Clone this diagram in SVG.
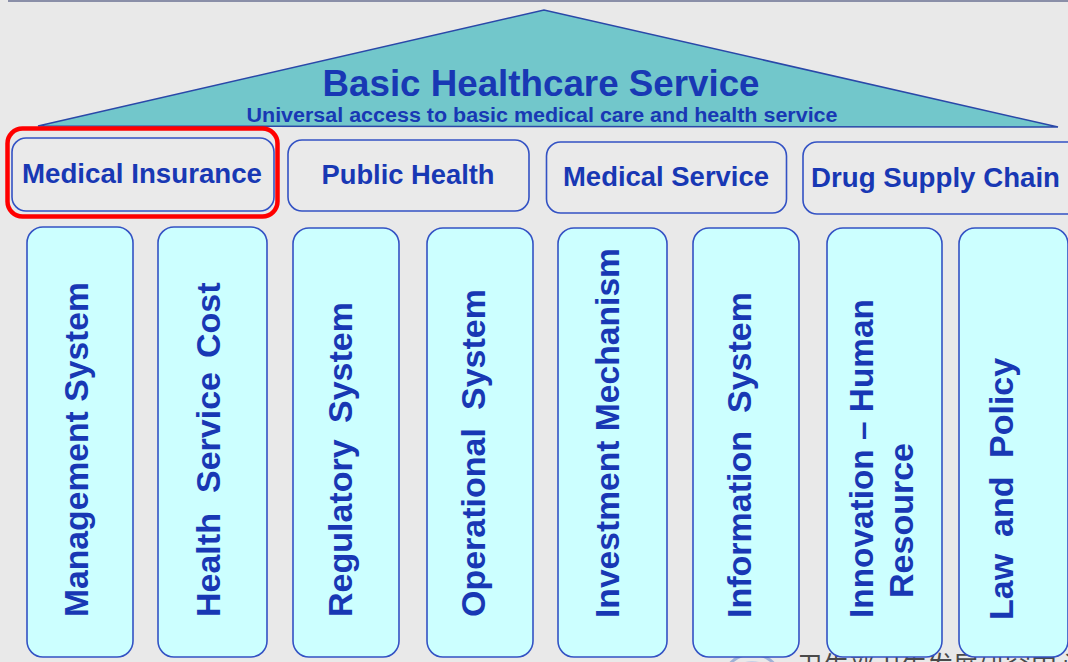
<svg xmlns="http://www.w3.org/2000/svg" width="1068" height="662" viewBox="0 0 1068 662">
<style>
  .bg { fill: #e9e9e9; }
  .roof { fill: #72c7cb; stroke: #2a48a8; stroke-width: 1.5; }
  .box { fill: #eaeaea; stroke: #3352c4; stroke-width: 1.6; }
  .pillar { fill: #ccffff; stroke: #3352c4; stroke-width: 1.6; }
  .hl { fill: none; stroke: #ff0000; stroke-width: 4.5; }
  text { font-family: "Liberation Sans", Arial, sans-serif; font-weight: bold; fill: #1838b4; }
  .title { font-size: 36px; }
  .sub { font-size: 20px; }
  .lbl { font-size: 27px; }
  .vt { font-size: 34px; }
  .wm { font-family: "Noto Sans CJK SC", sans-serif; font-weight: normal; font-size: 26px; fill: #4a4a4a; }
</style>
<rect class="bg" x="0" y="0" width="1068" height="662"/>
<line x1="8" y1="1" x2="1068" y2="1" stroke="#8a8fa8" stroke-width="2"/>

<g id="watermark">
  <circle cx="752" cy="684" r="30" fill="none" stroke="#9fb2d6" stroke-width="3"/>
  <circle cx="752" cy="684" r="22" fill="none" stroke="#c5d0e6" stroke-width="2"/>
  <text class="wm" x="797" y="675">卫生部卫生发展研究中心</text>
</g>

<g id="roof">
  <polygon class="roof" points="38,126 544,10 1058,127"/>
  <text class="title" x="541" y="96" text-anchor="middle" textLength="437" lengthAdjust="spacingAndGlyphs">Basic Healthcare Service</text>
  <text class="sub" x="542" y="122" text-anchor="middle" textLength="591" lengthAdjust="spacingAndGlyphs">Universal access to basic medical care and health service</text>
</g>

<g id="medical-insurance">
  <rect class="box" x="12" y="138" width="262" height="73" rx="14"/>
  <text class="lbl" x="142" y="183" text-anchor="middle" textLength="240" lengthAdjust="spacingAndGlyphs">Medical Insurance</text>
  <rect class="hl" x="7.5" y="128.5" width="270" height="88" rx="15"/>
</g>
<g id="public-health">
  <rect class="box" x="288" y="140" width="241" height="71" rx="14"/>
  <text class="lbl" x="408" y="184" text-anchor="middle" textLength="173" lengthAdjust="spacingAndGlyphs">Public Health</text>
</g>
<g id="medical-service">
  <rect class="box" x="546.5" y="142" width="240" height="71" rx="14"/>
  <text class="lbl" x="666" y="186" text-anchor="middle" textLength="206" lengthAdjust="spacingAndGlyphs">Medical Service</text>
</g>
<g id="drug-supply-chain">
  <rect class="box" x="803" y="142" width="280" height="72" rx="14"/>
  <text class="lbl" x="935.5" y="187" text-anchor="middle" textLength="249" lengthAdjust="spacingAndGlyphs">Drug Supply Chain</text>
</g>

<g id="management-system">
  <rect class="pillar" x="27" y="227" width="106" height="430" rx="16"/>
  <text class="vt" transform="translate(88,617) rotate(-90)" x="0" y="0" textLength="335" lengthAdjust="spacingAndGlyphs">Management System</text>
</g>
<g id="health-service-cost">
  <rect class="pillar" x="158" y="227" width="109" height="430" rx="16"/>
  <text class="vt" transform="translate(220,617) rotate(-90)"><tspan x="0" y="0">Health</tspan><tspan x="124" y="0">Service</tspan><tspan x="259" y="0">Cost</tspan></text>
</g>
<g id="regulatory-system">
  <rect class="pillar" x="293" y="228" width="106" height="429" rx="16"/>
  <text class="vt" transform="translate(352,617) rotate(-90)"><tspan x="0" y="0">Regulatory</tspan><tspan x="194" y="0">System</tspan></text>
</g>
<g id="operational-system">
  <rect class="pillar" x="427" y="228" width="106" height="429" rx="16"/>
  <text class="vt" transform="translate(485,617) rotate(-90)"><tspan x="0" y="0">Operational</tspan><tspan x="207" y="0">System</tspan></text>
</g>
<g id="investment-mechanism">
  <rect class="pillar" x="558" y="228" width="109" height="429" rx="16"/>
  <text class="vt" transform="translate(619,618) rotate(-90)" x="0" y="0" textLength="370" lengthAdjust="spacingAndGlyphs">Investment Mechanism</text>
</g>
<g id="information-system">
  <rect class="pillar" x="693" y="228" width="106" height="429" rx="16"/>
  <text class="vt" transform="translate(751,618) rotate(-90)"><tspan x="0" y="0">Information</tspan><tspan x="205" y="0">System</tspan></text>
</g>
<g id="innovation-human-resource">
  <rect class="pillar" x="827" y="228" width="115" height="429" rx="16"/>
  <text class="vt" transform="translate(873,618) rotate(-90)" x="0" y="0" textLength="319" lengthAdjust="spacingAndGlyphs">Innovation – Human</text>
  <text class="vt" transform="translate(913,598) rotate(-90)" x="0" y="0" textLength="155" lengthAdjust="spacingAndGlyphs">Resource</text>
</g>
<g id="law-and-policy">
  <rect class="pillar" x="959" y="228" width="109" height="429" rx="16"/>
  <text class="vt" transform="translate(1013,620) rotate(-90)"><tspan x="0" y="0">Law</tspan><tspan x="83" y="0">and</tspan><tspan x="162" y="0">Policy</tspan></text>
</g>

<g id="connectors"></g>
</svg>
